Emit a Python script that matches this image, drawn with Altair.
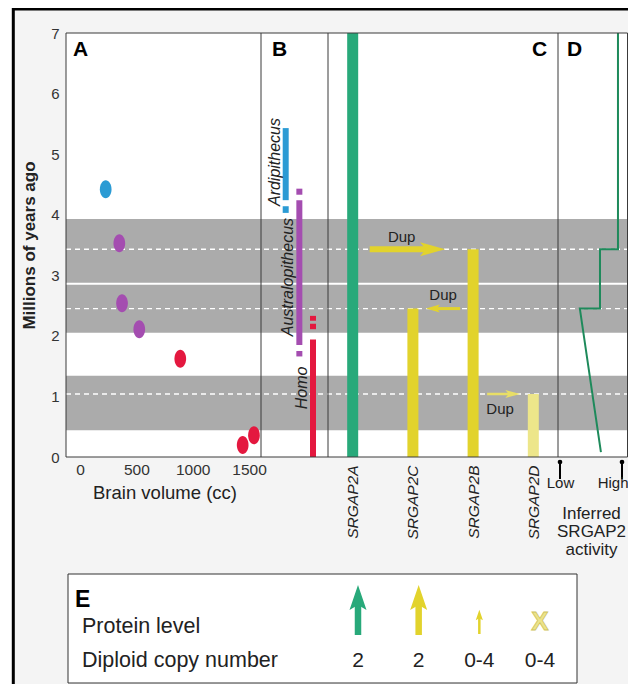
import altair as alt
import pandas as pd

# ---------------- data ----------------
genus_names = ["Ardipithecus", "Australopithecus", "Homo"]
genus_colors = ["#2b9bd4", "#a44db0", "#e4183f"]
genus_label_myr = [4.87, 2.97, 1.14]

# Panel A: fossil brain volume vs age
fossil_genus = ["Ardipithecus", "Australopithecus", "Australopithecus", "Australopithecus", "Homo", "Homo", "Homo"]
fossil_cc = [228, 349, 373, 526, 890, 1444, 1544]
fossil_myr = [4.42, 3.53, 2.54, 2.11, 1.62, 0.20, 0.36]

# Panel B: genus time ranges (segments)
seg_genus = ["Ardipithecus", "Ardipithecus", "Australopithecus", "Australopithecus",
             "Australopithecus", "Homo", "Homo", "Homo"]
seg_top = [5.43, 4.14, 4.43, 4.24, 1.75, 2.33, 2.20, 1.94]
seg_bottom = [4.24, 4.03, 4.33, 1.85, 1.66, 2.25, 2.11, 0.0]

# Panel C: SRGAP2 paralogs
genes = ["SRGAP2A", "SRGAP2C", "SRGAP2B", "SRGAP2D"]
gene_colors = ["#28a97a", "#e2d32c", "#e2d32c", "#ede68a"]
gene_origin_myr = [7.0, 2.45, 3.43, 1.04]

dup_from = ["SRGAP2A", "SRGAP2B", "SRGAP2B"]
dup_to = ["SRGAP2B", "SRGAP2C", "SRGAP2D"]
dup_myr = [3.43, 2.45, 1.04]
dup_label = ["Dup", "Dup", "Dup"]

# dating confidence bands
band_top = [3.93, 1.34]
band_bottom = [2.05, 0.44]
split_myr = [2.86]

# Panel D: inferred SRGAP2 activity
activity_level = [0.66, 0.32, 0.645, 0.645, 0.935, 0.935]
activity_myr = [0.08, 2.45, 2.45, 3.43, 3.43, 7.0]
activity_ticks = [0, 1]
activity_tick_labels = ["Low", "High"]

# Panel E: legend
legend_rows = ["Protein level", "Diploid copy number"]
protein_level = ["high", "high", "low", "none"]
copy_number = ["2", "2", "0-4", "0-4"]

panel_letters = ["A", "B", "C", "D"]

# ---------------- layout / style ----------------
W, H = 562, 424
FONT = "Liberation Sans"
INK = "#222222"
LINE = "#3a3a3a"
BAND = "#ababab"
YEL = "#e2d32c"

one = pd.DataFrame({"k": [0]})
fossil_df = pd.DataFrame({"genus": fossil_genus, "cc": fossil_cc, "myr": fossil_myr})
seg_df = pd.DataFrame({"genus": seg_genus, "top": seg_top, "bottom": seg_bottom})
genus_df = pd.DataFrame({"genus": genus_names, "label_myr": genus_label_myr})
gene_df = pd.DataFrame({"gene": genes, "origin": gene_origin_myr, "zero": [0.0] * len(genes)})
dup_df = pd.DataFrame({"from": dup_from, "to": dup_to, "myr": dup_myr, "label": dup_label})
band_df = pd.DataFrame({"top": band_top, "bottom": band_bottom})
split_df = pd.DataFrame({"myr": split_myr})
act_df = pd.DataFrame({"level": activity_level, "myr": activity_myr, "step": list(range(len(activity_level)))})
tick_df = pd.DataFrame({"level": activity_ticks, "label": activity_tick_labels})
rows_df = pd.DataFrame({"label": legend_rows, "row": list(range(len(legend_rows)))})
sym_df = pd.DataFrame({"gene": genes, "protein": protein_level, "row": [0] * len(genes)})
num_df = pd.DataFrame({"gene": genes, "copies": copy_number, "row": [1] * len(genes)})

y_scale = alt.Scale(domain=[0, 7], nice=False, zero=False)


def Y(field, axis=None):
    return alt.Y(field, type="quantitative", scale=y_scale, axis=axis)


A_x = alt.Scale(domain=[0, 1500], range=[14, 183], nice=False, zero=False)
B_x = alt.Scale(type="point", domain=genus_names, range=[219.7, 247], padding=0)
C_x = alt.Scale(type="point", domain=genes, range=[262, 492], padding=0.41)
D_x = alt.Scale(domain=[0, 1], range=[494, 556], nice=False, zero=False)
LEG_x = alt.Scale(type="point", domain=genes, range=[292, 474], padding=0)
LEG_y = alt.Scale(domain=[0, 1], range=[594, 628], nice=False, zero=False)

genus_color = alt.Color("genus:N", scale=alt.Scale(domain=genus_names, range=genus_colors), legend=None)
gene_color = alt.Color("gene:N", scale=alt.Scale(domain=genes, range=gene_colors), legend=None)

layers = []

# outer frame and plot background
layers.append(alt.Chart(one).mark_rect(fill="#f4f4f4", stroke="black", strokeWidth=3).encode(
    x=alt.value(-52.7), x2=alt.value(W + 120), y=alt.value(-24), y2=alt.value(H + 400)))
layers.append(alt.Chart(one).mark_rect(fill="white").encode(
    x=alt.value(0), x2=alt.value(W), y=alt.value(0), y2=alt.value(H)))

# confidence bands with the shared time axis
y_axis = alt.Axis(values=list(range(8)), title="Millions of years ago", ticks=False, domain=False,
                  grid=False, labelPadding=7, labelFontSize=15, labelColor="#333333",
                  titleFontSize=17, titleFontWeight="bold", titleColor=INK, titlePadding=12,
                  labelFlush=False, zindex=1)
layers.append(alt.Chart(band_df).mark_rect(color=BAND).encode(
    x=alt.value(0), x2=alt.value(W), y=Y("top", y_axis), y2="bottom"))
layers.append(alt.Chart(split_df).mark_rule(color="white", strokeWidth=2).encode(
    x=alt.value(0), x2=alt.value(W), y=Y("myr")))
layers.append(alt.Chart(dup_df).mark_rule(color="white", strokeWidth=1.3, strokeDash=[5, 4]).encode(
    x=alt.value(0), x2=alt.value(W), y=Y("myr")))

# Panel A
ELLIPSE = "M0,-1A0.65,1 0 1,1 0,1A0.65,1 0 1,1 0,-1Z"
a_axis = alt.Axis(orient="bottom", values=[0, 500, 1000, 1500], format="d", title="Brain volume (cc)",
                  ticks=False, domain=False, grid=False, labelPadding=5, labelFontSize=15.5,
                  labelColor="#333333", titleFontSize=18.5, titleFontWeight="normal", titleColor=INK,
                  titlePadding=6, labelFlush=False, zindex=1)
layers.append(alt.Chart(fossil_df).mark_point(shape=ELLIPSE, filled=True, size=324, opacity=1).encode(
    x=alt.X("cc:Q", scale=A_x, axis=a_axis), y=Y("myr"), color=genus_color))

# Panel B
layers.append(alt.Chart(seg_df).mark_rule(strokeWidth=6, strokeCap="butt").encode(
    x=alt.X("genus:N", scale=B_x, axis=None), y=Y("top"), y2="bottom", color=genus_color))
layers.append(alt.Chart(genus_df).mark_text(angle=270, fontStyle="italic", fontSize=16, dy=-11,
                                             color=INK, align="center", baseline="middle").encode(
    x=alt.X("genus:N", scale=B_x, axis=None), y=Y("label_myr"), text="genus"))

# Panel C bars
c_axis = alt.Axis(orient="bottom", title=None, labelAngle=270, labelFontStyle="italic", labelFontSize=15.5,
                  labelColor=INK, labelPadding=8, ticks=False, domain=False, grid=False, zindex=1)
layers.append(alt.Chart(gene_df).mark_rule(strokeWidth=11, strokeCap="butt").encode(
    x=alt.X("gene:N", scale=C_x, axis=c_axis), y=Y("origin"), y2="zero", color=gene_color))

# Panel C duplication arrows
dup_style = [
    dict(start=17, tip=-28, width=6, head_len=25, head_h=14, color=YEL, label_dx=49, label_dy=-12),
    dict(start=-13, tip=13, width=3, head_len=14, head_h=8, color=YEL, label_dx=-30, label_dy=-14),
    dict(start=14, tip=-13, width=2.5, head_len=15, head_h=8, color="#e8de66", label_dx=27, label_dy=15),
]
for i, st in enumerate(dup_style):
    row = dup_df.iloc[[i]]
    d = 1 if genes.index(dup_to[i]) > genes.index(dup_from[i]) else -1
    hl, hh = st["head_len"], st["head_h"]
    h = hh / hl
    path = f"M{d},0L{-d},{-h:.3f}L{-0.55 * d},0L{-d},{h:.3f}Z"
    base = alt.Chart(row)
    layers.append(base.mark_rule(color=st["color"], strokeWidth=st["width"], xOffset=st["start"],
                                 x2Offset=st["tip"] - d * hl * 0.7).encode(
        x=alt.X("from:N", scale=C_x, axis=None), x2="to", y=Y("myr")))
    layers.append(base.mark_point(shape=path, filled=True, size=hl * hl, color=st["color"], opacity=1,
                                  strokeWidth=0, xOffset=st["tip"] - d * hl / 2).encode(
        x=alt.X("to:N", scale=C_x, axis=None), y=Y("myr")))
    layers.append(base.mark_text(fontSize=15, color=INK, dx=st["label_dx"], dy=st["label_dy"]).encode(
        x=alt.X("from:N", scale=C_x, axis=None), y=Y("myr"), text="label"))

# Panel D
layers.append(alt.Chart(act_df).mark_line(color="#1e8a5b", strokeWidth=2).encode(
    x=alt.X("level:Q", scale=D_x, axis=None), y=Y("myr"), order="step:Q"))
d_axis = alt.Axis(orient="bottom", values=activity_ticks,
                  labelExpr="datum.value == 0 ? 'Low' : 'High'", ticks=False, domain=False, grid=False,
                  labelPadding=18, labelFontSize=15, labelColor=INK, labelFlush=False,
                  labelAlign={"condition": {"test": "datum.value == 1", "value": "right"}, "value": "center"},
                  labelOffset={"condition": {"test": "datum.value == 1", "value": 6}, "value": 0},
                  title=["Inferred", "SRGAP2", "activity"], titleFontSize=17, titleFontWeight="normal",
                  titleColor=INK, titleLineHeight=18, titlePadding=15, zindex=1)
layers.append(alt.Chart(tick_df).mark_rule(color="black", strokeWidth=2).encode(
    x=alt.X("level:Q", scale=D_x, axis=d_axis), y=alt.value(H + 6), y2=alt.value(H + 22)))
layers.append(alt.Chart(tick_df).mark_point(filled=True, size=22, color="black", opacity=1).encode(
    x=alt.X("level:Q", scale=D_x, axis=None), y=alt.value(H + 5)))

# panel dividers and border
for xv in [195, 262, 492]:
    layers.append(alt.Chart(one).mark_rule(color=LINE, strokeWidth=1).encode(
        x=alt.value(xv), y=alt.value(0), y2=alt.value(H)))
layers.append(alt.Chart(one).mark_rect(fill="transparent", stroke=LINE, strokeWidth=1).encode(
    x=alt.value(0), x2=alt.value(W - 0.5), y=alt.value(0), y2=alt.value(H)))

# panel letters
for letter, xv in zip(panel_letters, [7, 206, 466, 501]):
    layers.append(alt.Chart(one).mark_text(text=letter, fontSize=21, fontWeight="bold", color="black",
                                           align="left", baseline="middle").encode(
        x=alt.value(xv), y=alt.value(17)))

# Panel E legend
layers.append(alt.Chart(one).mark_rect(fill="white", stroke="#333333", strokeWidth=1).encode(
    x=alt.value(2), x2=alt.value(511), y=alt.value(541), y2=alt.value(650)))
layers.append(alt.Chart(one).mark_text(text="E", fontSize=23, fontWeight="bold", color="black",
                                       align="left", baseline="middle").encode(
    x=alt.value(9), y=alt.value(567)))
layers.append(alt.Chart(rows_df).mark_text(fontSize=21.5, color=INK, align="left", baseline="middle").encode(
    x=alt.value(16), y=alt.Y("row:Q", scale=LEG_y, axis=None), text="label"))

UP_HEAD = "M0,-1L0.68,1L0,0.6L-0.68,1Z"
big = alt.Chart(sym_df).transform_filter(alt.datum.protein == "high")
layers.append(big.mark_rule(strokeWidth=6.5, yOffset=8, y2Offset=-25).encode(
    x=alt.X("gene:N", scale=LEG_x, axis=None), y=alt.Y("row:Q", scale=LEG_y, axis=None), y2="row",
    color=gene_color))
layers.append(big.mark_point(shape=UP_HEAD, filled=True, size=625, opacity=1, strokeWidth=0, yOffset=-29.5).encode(
    x=alt.X("gene:N", scale=LEG_x, axis=None), y=alt.Y("row:Q", scale=LEG_y, axis=None), color=gene_color))
small = alt.Chart(sym_df).transform_filter(alt.datum.protein == "low")
layers.append(small.mark_rule(strokeWidth=2.5, yOffset=7, y2Offset=-10).encode(
    x=alt.X("gene:N", scale=LEG_x, axis=None), y=alt.Y("row:Q", scale=LEG_y, axis=None), y2="row",
    color=gene_color))
layers.append(small.mark_point(shape=UP_HEAD, filled=True, size=110, opacity=1, strokeWidth=0, yOffset=-12).encode(
    x=alt.X("gene:N", scale=LEG_x, axis=None), y=alt.Y("row:Q", scale=LEG_y, axis=None), color=gene_color))
none_ = alt.Chart(sym_df).transform_filter(alt.datum.protein == "none")
layers.append(none_.mark_text(text="X", fontSize=26, fontWeight="bold", fill="#ece38a", stroke="#cfc35e",
                              strokeWidth=0.8, dy=-5).encode(
    x=alt.X("gene:N", scale=LEG_x, axis=None), y=alt.Y("row:Q", scale=LEG_y, axis=None)))
layers.append(alt.Chart(num_df).mark_text(fontSize=21, color=INK).encode(
    x=alt.X("gene:N", scale=LEG_x, axis=None), y=alt.Y("row:Q", scale=LEG_y, axis=None), text="copies"))

chart = alt.layer(*layers).resolve_scale(x="independent", y="independent", color="independent").properties(
    width=W, height=H,
    autosize=alt.AutoSizeParams(type="none"),
    padding={"left": 58, "top": 25, "right": 0, "bottom": 227},
    background="white",
).configure(font=FONT).configure_view(strokeWidth=0).configure_text(font=FONT).configure_axis(
    labelFont=FONT, titleFont=FONT)

chart.save("out.html", embed_options={"renderer": "svg", "actions": False})
